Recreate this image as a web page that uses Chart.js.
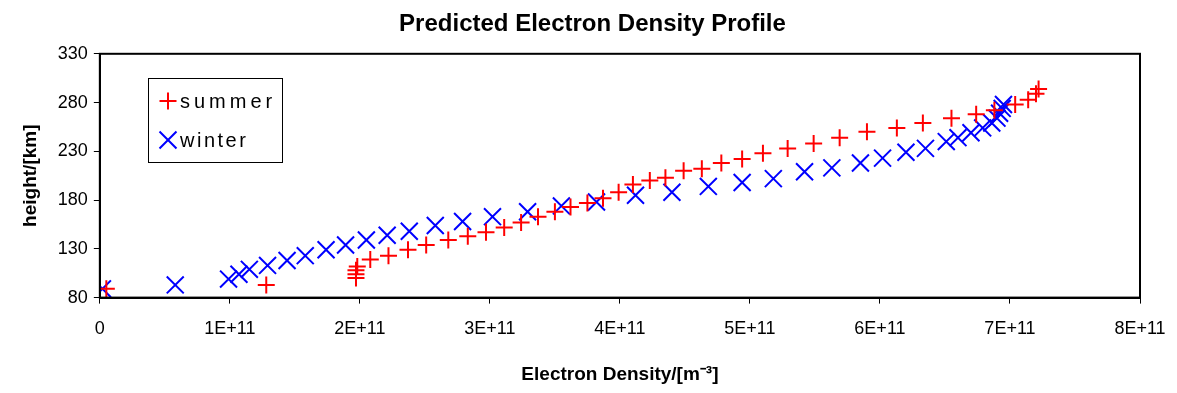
<!DOCTYPE html>
<html>
<head>
<meta charset="utf-8">
<script src="https://cdn.jsdelivr.net/npm/chart.js@4"></script>
<style>
  html, body { margin: 0; padding: 0; background: #fff; }
  #wrap { width: 1177px; height: 393px; }
</style>
</head>
<body>
<div id="wrap"><canvas id="densityChart" width="1177" height="393"></canvas></div>
<script>
// values (density in m^-3, height in km)
const summerDensity = [0.05e11, 1.28e11, 1.97e11, 1.97e11, 1.97e11, 1.98e11, 2.08e11, 2.22e11, 2.37e11, 2.51e11,
  2.68e11, 2.83e11, 2.97e11, 3.11e11, 3.24e11, 3.37e11, 3.5e11, 3.62e11, 3.75e11, 3.87e11,
  3.99e11, 4.1e11, 4.23e11, 4.35e11, 4.49e11, 4.63e11, 4.78e11, 4.94e11, 5.1e11, 5.29e11,
  5.49e11, 5.69e11, 5.9e11, 6.13e11, 6.33e11, 6.55e11, 6.74e11, 6.88e11, 7.04e11, 7.14e11,
  7.2e11, 7.22e11];
const summerHeight = [89, 93, 100, 104, 108, 112, 119, 123, 129, 134,
  139, 143, 147, 152, 157, 163, 168, 173, 177, 182,
  188, 196, 200, 203, 210, 212, 218, 222, 228, 233,
  238, 244, 250, 254, 259, 264, 268, 272, 278, 283,
  289, 294];

const winterDensity = [0.02e11, 0.58e11, 0.99e11, 1.07e11, 1.15e11, 1.29e11, 1.44e11, 1.58e11, 1.74e11, 1.89e11,
  2.05e11, 2.21e11, 2.38e11, 2.58e11, 2.79e11, 3.02e11, 3.29e11, 3.55e11, 3.82e11, 4.12e11,
  4.4e11, 4.68e11, 4.94e11, 5.18e11, 5.42e11, 5.63e11, 5.85e11, 6.02e11, 6.2e11, 6.35e11,
  6.51e11, 6.6e11, 6.7e11, 6.79e11, 6.86e11, 6.9e11, 6.92e11, 6.94e11, 6.95e11];
const winterHeight = [89, 93, 99, 104, 109, 113, 118, 123, 129, 134,
  139, 144, 148, 154, 158, 163, 168, 174, 178, 185,
  188, 194, 198, 202, 209, 213, 218, 223, 229, 233,
  240, 244, 249, 254, 259, 264, 269, 274, 278];

const seriesNames = ["summer", "winter"];
const seriesColors = ["#ff0000", "#0000ff"];

const font = "'Liberation Sans', Arial, sans-serif";

function toPoints(xs, ys) {
  return xs.map((x, i) => ({ x: x, y: ys[i] }));
}

// box around the plot area plus the little legend box in the upper left
const framePlugin = {
  id: "frame",
  afterDraw(chart) {
    const ctx = chart.ctx;
    const a = chart.chartArea;
    ctx.save();
    ctx.strokeStyle = "#000";
    ctx.lineWidth = 2;
    ctx.strokeRect(a.left, a.top, a.right - a.left, a.bottom - a.top);

    // legend
    const lx = 148, ly = 78, lw = 134, lh = 84;
    ctx.fillStyle = "#fff";
    ctx.fillRect(lx, ly, lw, lh);
    ctx.lineWidth = 1;
    ctx.strokeRect(lx + 0.5, ly + 0.5, lw, lh);
    ctx.font = "20px " + font;
    ctx.textBaseline = "middle";
    ctx.lineWidth = 2;
    const styles = ["cross", "crossRot"];
    const spacing = ["4px", "2.5px"];
    seriesNames.forEach((name, i) => {
      const cy = ly + 23 + i * 39;
      ctx.strokeStyle = seriesColors[i];
      Chart.helpers.drawPoint(ctx, { pointStyle: styles[i], radius: i === 0 ? 8.5 : 12, borderWidth: 2 }, lx + 20, cy);
      ctx.fillStyle = "#000";
      ctx.letterSpacing = spacing[i];
      ctx.fillText(name, lx + 32, cy + 1);
    });
    ctx.letterSpacing = "0px";
    ctx.restore();
  }
};

new Chart(document.getElementById("densityChart"), {
  type: "scatter",
  data: {
    datasets: [
      {
        label: seriesNames[0],
        data: toPoints(summerDensity, summerHeight),
        pointStyle: "cross",
        pointRadius: 8.5,
        pointHoverRadius: 8.5,
        borderWidth: 2,
        borderColor: seriesColors[0],
        backgroundColor: seriesColors[0],
      },
      {
        label: seriesNames[1],
        data: toPoints(winterDensity, winterHeight),
        pointStyle: "crossRot",
        pointRadius: 12,
        pointHoverRadius: 12,
        borderWidth: 2,
        borderColor: seriesColors[1],
        backgroundColor: seriesColors[1],
      },
    ],
  },
  options: {
    responsive: false,
    animation: false,
    layout: { padding: { left: 19, right: 11, top: 0, bottom: 7 } },
    plugins: {
      legend: { display: false },
      tooltip: { enabled: false },
      title: {
        display: true,
        text: "Predicted Electron Density Profile",
        color: "#000",
        font: { family: font, size: 24, weight: "bold" },
        padding: { top: 10, bottom: 15 },
      },
    },
    scales: {
      x: {
        type: "linear",
        min: 0,
        max: 8e11,
        // keep the right edge of the plot where the original has it
        afterFit: (scale) => { scale.paddingRight = 37; },
        ticks: {
          stepSize: 1e11,
          color: "#000",
          font: { family: font, size: 18 },
          padding: 15,
          maxRotation: 0,
          callback: (v) => (v === 0 ? "0" : Math.round(v / 1e11) + "E+11"),
        },
        grid: { drawOnChartArea: false, drawTicks: true, tickLength: 6, color: "#000", lineWidth: 1 },
        border: { display: true, color: "#000", width: 2 },
        title: {
          display: true,
          text: "Electron Density/[m\u207B\u00B3]",
          color: "#000",
          font: { family: font, size: 19, weight: "bold" },
          padding: { top: 8, bottom: 0 },
        },
      },
      y: {
        type: "linear",
        min: 80,
        max: 330,
        ticks: {
          stepSize: 50,
          color: "#000",
          font: { family: font, size: 18 },
          padding: 6,
        },
        grid: { drawOnChartArea: false, drawTicks: true, tickLength: 6, color: "#000", lineWidth: 1 },
        border: { display: true, color: "#000", width: 2 },
        title: {
          display: true,
          text: "height/[km]",
          color: "#000",
          font: { family: font, size: 19, weight: "bold" },
          padding: { top: 0, bottom: 10 },
        },
      },
    },
  },
  plugins: [framePlugin],
});
</script>
</body>
</html>
